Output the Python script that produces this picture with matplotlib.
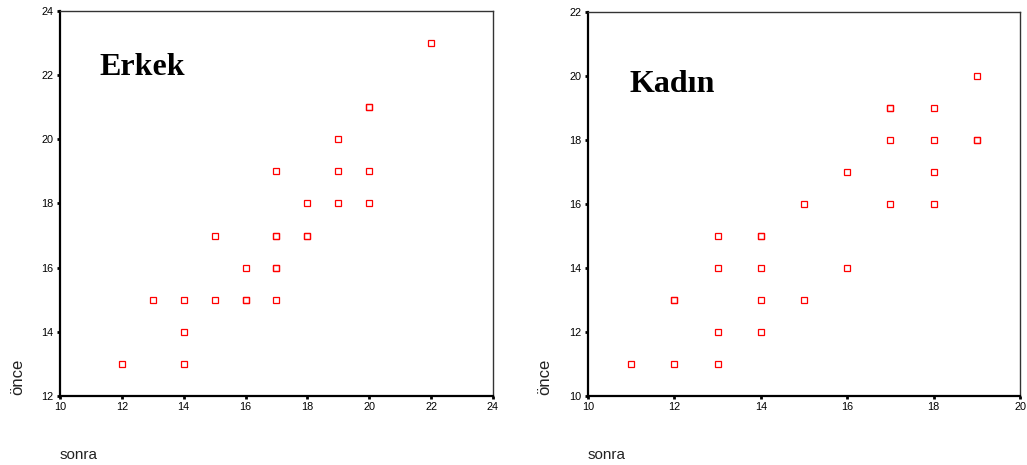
import matplotlib
matplotlib.use("Agg")
import matplotlib.pyplot as plt

# Erkek (men): sonra vs once
erkek_sonra = [12, 13, 14, 14, 14, 15, 15, 16, 16, 16, 17, 17, 17, 17, 17, 17,
               18, 18, 18, 19, 19, 19, 20, 20, 20, 20, 22]
erkek_once = [13, 15, 15, 14, 13, 17, 15, 16, 15, 15, 19, 17, 17, 16, 16, 15,
              18, 17, 17, 20, 19, 18, 21, 21, 19, 18, 23]

# Kadin (women)
kadin_sonra = [11, 12, 12, 12, 13, 13, 13, 13, 14, 14, 14, 14, 14, 15, 15, 16, 16,
               17, 17, 17, 17, 18, 18, 18, 18, 19, 19, 19]
kadin_once = [11, 13, 13, 11, 15, 14, 12, 11, 15, 15, 14, 13, 12, 16, 13, 17, 14,
              19, 19, 18, 16, 19, 18, 17, 16, 20, 18, 18]

erkek_xticks = [10, 12, 14, 16, 18, 20, 22, 24]
erkek_yticks = [12, 14, 16, 18, 20, 22, 24]
kadin_xticks = [10, 12, 14, 16, 18, 20]
kadin_yticks = [10, 12, 14, 16, 18, 20, 22]

plt.rcParams['font.family'] = ['Liberation Sans', 'DejaVu Sans']

fig = plt.figure(figsize=(10.27, 4.65), dpi=100)
ax1 = fig.add_axes([0.0584, 0.1484, 0.4216, 0.828])
ax2 = fig.add_axes([0.5725, 0.1484, 0.4207, 0.826])


def style(ax, x, y, xt, yt, title, tx, ty):
    ax.plot(x, y, 's', ls='none', ms=4.2, mfc='none', mec='red', mew=0.9)
    ax.set_xlim(xt[0], xt[-1])
    ax.set_ylim(yt[0], yt[-1])
    ax.set_xticks(xt)
    ax.set_yticks(yt)
    ax.tick_params(direction='out', length=2.5, width=2, labelsize=7.8, pad=2)
    for s in ['left', 'bottom']:
        ax.spines[s].set_linewidth(1.6)
        ax.spines[s].set_color('black')
    for s in ['top', 'right']:
        ax.spines[s].set_linewidth(1.0)
        ax.spines[s].set_color('#333333')
    ax.text(tx, ty, title, transform=ax.transAxes, family='Liberation Serif',
            fontweight='bold', fontsize=23, ha='left', va='baseline')


style(ax1, erkek_sonra, erkek_once, erkek_xticks, erkek_yticks, 'Erkek', 0.092, 0.834)
style(ax2, kadin_sonra, kadin_once, kadin_xticks, kadin_yticks, 'Kadın', 0.095, 0.792)

# axis labels placed like the original output
fig.text(0.0175, 0.150, 'önce', rotation=90, fontsize=12, ha='center', va='bottom',
         color='#222222')
fig.text(0.0584, 0.022, 'sonra', fontsize=11, ha='left', va='center', color='#222222')
fig.text(0.530, 0.150, 'önce', rotation=90, fontsize=12, ha='center', va='bottom',
         color='#222222')
fig.text(0.5725, 0.022, 'sonra', fontsize=11, ha='left', va='center', color='#222222')

fig.savefig('out.png', dpi=100)
